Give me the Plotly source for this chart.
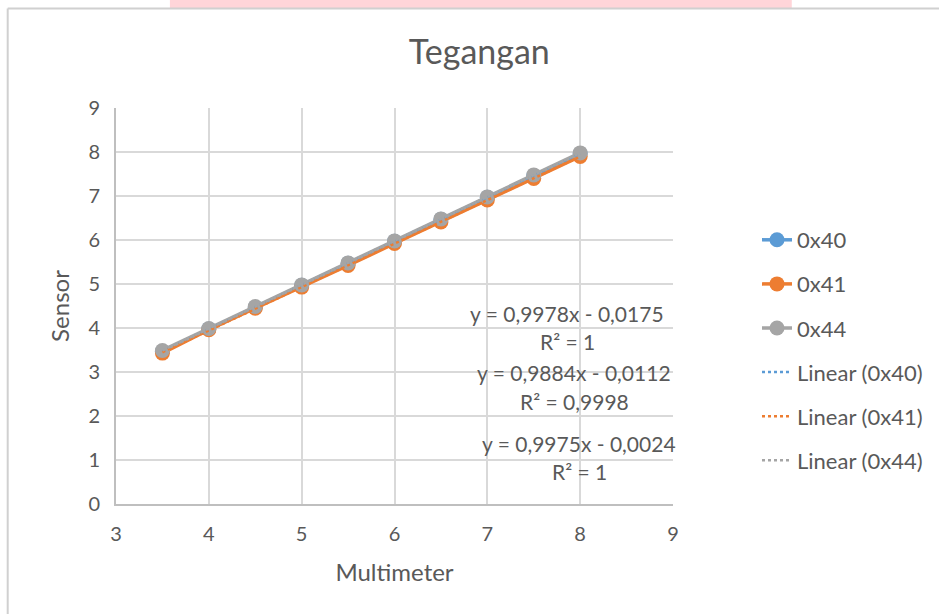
import numpy as np
import plotly.graph_objects as go

# Data
multimeter = [3.5, 4, 4.5, 5, 5.5, 6, 6.5, 7, 7.5, 8]
s_0x40 = [3.47, 3.98, 4.47, 4.97, 5.47, 5.97, 6.47, 6.97, 7.46, 7.96]
s_0x41 = [3.43, 3.96, 4.45, 4.93, 5.42, 5.92, 6.41, 6.91, 7.40, 7.90]
s_0x44 = [3.49, 3.99, 4.49, 4.98, 5.48, 5.98, 6.48, 6.98, 7.48, 7.98]
series_names = ["0x40", "0x41", "0x44"]
colors = ["#5b9bd5", "#ed7d31", "#a5a5a5"]
eq_lines = ["y = 0,9978x - 0,0175", "R² = 1",
            "y = 0,9884x - 0,0112", "R² = 0,9998",
            "y = 0,9975x - 0,0024", "R² = 1"]

FONT = "Lato"
TXT = "#595959"

W, H = 939, 614
L, R, T, B = 116, 674, 108, 504


def px_x(px):
    return (px - L) / (R - L)


def px_y(py):
    return (B - py) / (B - T)


fig = go.Figure()
all_series = [s_0x40, s_0x41, s_0x44]
for i, (name, ys) in enumerate(zip(series_names, all_series)):
    fig.add_trace(go.Scatter(
        x=multimeter, y=ys, name=name, mode="lines+markers",
        line=dict(color=colors[i], width=3.5),
        marker=dict(color=colors[i], size=15),
        legendgroup=name,
    ))
for i, (name, ys) in enumerate(zip(series_names, all_series)):
    m, c = np.polyfit(multimeter, ys, 1)
    xs = [multimeter[0], multimeter[-1]]
    fig.add_trace(go.Scatter(
        x=xs, y=[m * v + c for v in xs], name=f"Linear ({name})", mode="lines",
        line=dict(color=colors[i], width=2.5, dash="dot"),
        legendgroup="lin" + name,
    ))

# equation annotations
eq_pos = [(568, 313), (568, 341), (575, 372), (575, 401), (580, 443), (580, 471)]
for txt, (px, py) in zip(eq_lines, eq_pos):
    fig.add_annotation(x=px_x(px), y=px_y(py), xref="paper", yref="paper",
                       text=txt, showarrow=False, xanchor="center", yanchor="middle",
                       font=dict(family=FONT, size=21, color=TXT))

# page decorations (screenshot frame)
fig.add_shape(type="rect", xref="paper", yref="paper",
              x0=px_x(170), x1=px_x(793), y0=px_y(8), y1=px_y(-2),
              fillcolor="#ffd5d9", line=dict(width=0), layer="below")
fig.add_shape(type="line", xref="paper", yref="paper",
              x0=px_x(7.5), x1=px_x(945), y0=px_y(8.5), y1=px_y(8.5),
              line=dict(color="#d0d0d0", width=2))
fig.add_shape(type="line", xref="paper", yref="paper",
              x0=px_x(7.5), x1=px_x(7.5), y0=px_y(8.5), y1=px_y(620),
              line=dict(color="#d0d0d0", width=2))

fig.update_layout(
    width=W, height=H,
    margin=dict(l=L, r=W - R, t=T, b=H - B),
    paper_bgcolor="white", plot_bgcolor="white",
    font=dict(family=FONT, color=TXT, size=16),
    title=dict(text="Tegangan", x=px_x(480), xref="paper", xanchor="center",
               y=1 - 52 / H, yanchor="middle",
               font=dict(family=FONT, size=34, color=TXT)),
    showlegend=True,
    legend=dict(x=px_x(757), y=px_y(219), xanchor="left", yanchor="top",
                xref="paper", yref="paper",
                font=dict(family=FONT, size=22, color=TXT),
                tracegroupgap=12.5, itemwidth=30,
                bgcolor="rgba(0,0,0,0)"),
    xaxis=dict(range=[3, 9], dtick=1, showgrid=True, gridcolor="#d9d9d9",
               gridwidth=1.5, zeroline=False, showline=True,
               linecolor="#bfbfbf", linewidth=2, ticks="",
               tickfont=dict(size=20, color=TXT), ticklabelstandoff=11,
               title=dict(text="Multimeter", font=dict(size=24, color=TXT),
                          standoff=20)),
    yaxis=dict(range=[0, 9], dtick=1, showgrid=True, gridcolor="#d9d9d9",
               gridwidth=1.5, zeroline=False, showline=True,
               linecolor="#bfbfbf", linewidth=2, ticks="",
               tickfont=dict(size=20, color=TXT), ticklabelstandoff=10,
               title=dict(text="Sensor", font=dict(size=24, color=TXT),
                          standoff=12)),
)
fig.write_html("out.html", config={"displayModeBar": False},
               post_script="document.body.style.margin='0';")
